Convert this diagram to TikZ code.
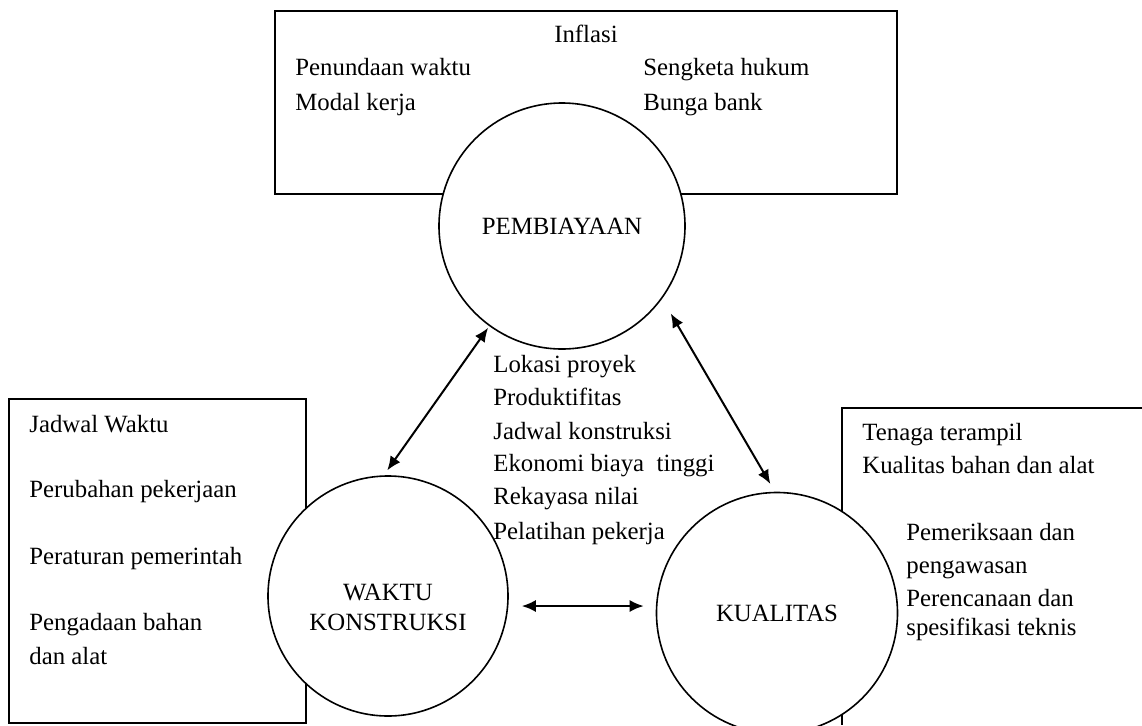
\documentclass[tikz,border=0pt]{standalone}
\usepackage{fontspec}
\setmainfont{Liberation Serif}
\usetikzlibrary{arrows.meta}
\tikzset{
  factor/.style={circle, draw, line width=0.8pt, fill=white, inner sep=0pt},
  lbl/.style={anchor=base west, inner sep=0pt},
  arr/.style={{Latex[length=7pt,width=6pt]}-{Latex[length=7pt,width=6pt]}, line width=1pt},
  frame/.style={line width=1pt}
}

\begin{document}
\begin{tikzpicture}[x=0.5pt, y=-0.5pt, font=\fontsize{12.4pt}{15pt}\selectfont]
  \useasboundingbox (0,0) rectangle (1142,725);

  % Frames
  \draw[frame] (275,11) rectangle (897,194);
  \draw[frame] (9,399) rectangle (306,723);
  \draw[frame] (1142,408) -- (842,408) -- (842,725);

  % Define nodes
  \node[factor, minimum size=123pt] (B) at (562,226) {PEMBIAYAAN};
  \node[factor, minimum size=120pt] (W) at (388,596) {};
  \node[align=center, inner sep=0pt] (Wtext) at (388,607) {WAKTU\\KONSTRUKSI};
  \node[factor, minimum size=120.5pt] (K) at (777,613) {KUALITAS};

  % Texts of the frames
  \node[anchor=base, inner sep=0pt] (inflasi) at (586,42) {Inflasi};
  \node[lbl] (tunda) at (295,75) {Penundaan waktu};
  \node[lbl] (modal) at (295,110) {Modal kerja};
  \node[lbl] (sengketa) at (643,75) {Sengketa hukum};
  \node[lbl] (bunga) at (643,110) {Bunga bank};

  \foreach \yy/\txt [count=\i] in {372/Lokasi proyek, 405/Produktifitas,
      439/Jadwal konstruksi, 471/Ekonomi biaya~ tinggi, 504/Rekayasa nilai,
      539/Pelatihan pekerja}
    \node[lbl] (mid\i) at (493,\yy) {\txt};

  \foreach \yy/\txt [count=\i] in {432/Jadwal Waktu, 497/Perubahan pekerjaan,
      564/Peraturan pemerintah, 630/Pengadaan bahan, 664/dan alat}
    \node[lbl] (waktu\i) at (29,\yy) {\txt};

  \node[lbl] (tenaga) at (862,440) {Tenaga terampil};
  \node[lbl] (bahan) at (862,473) {Kualitas bahan dan alat};
  \foreach \yy/\txt [count=\i] in {540/Pemeriksaan dan, 573/pengawasan,
      606/Perencanaan dan, 635/spesifikasi teknis}
    \node[lbl] (mutu\i) at (906,\yy) {\txt};

  % Connect the nodes
  \draw[arr, shorten <=1pt, shorten >=3pt] (B.234) -- (W.92);
  \draw[arr, shorten <=8.5pt, shorten >=4.5pt] (B.324) -- (K.91);
  \draw[arr, shorten <=6.5pt, shorten >=6pt] ([yshift=-5pt]W.east) -- ([yshift=-5pt]W.east -| K.west);
\end{tikzpicture}
\end{document}
